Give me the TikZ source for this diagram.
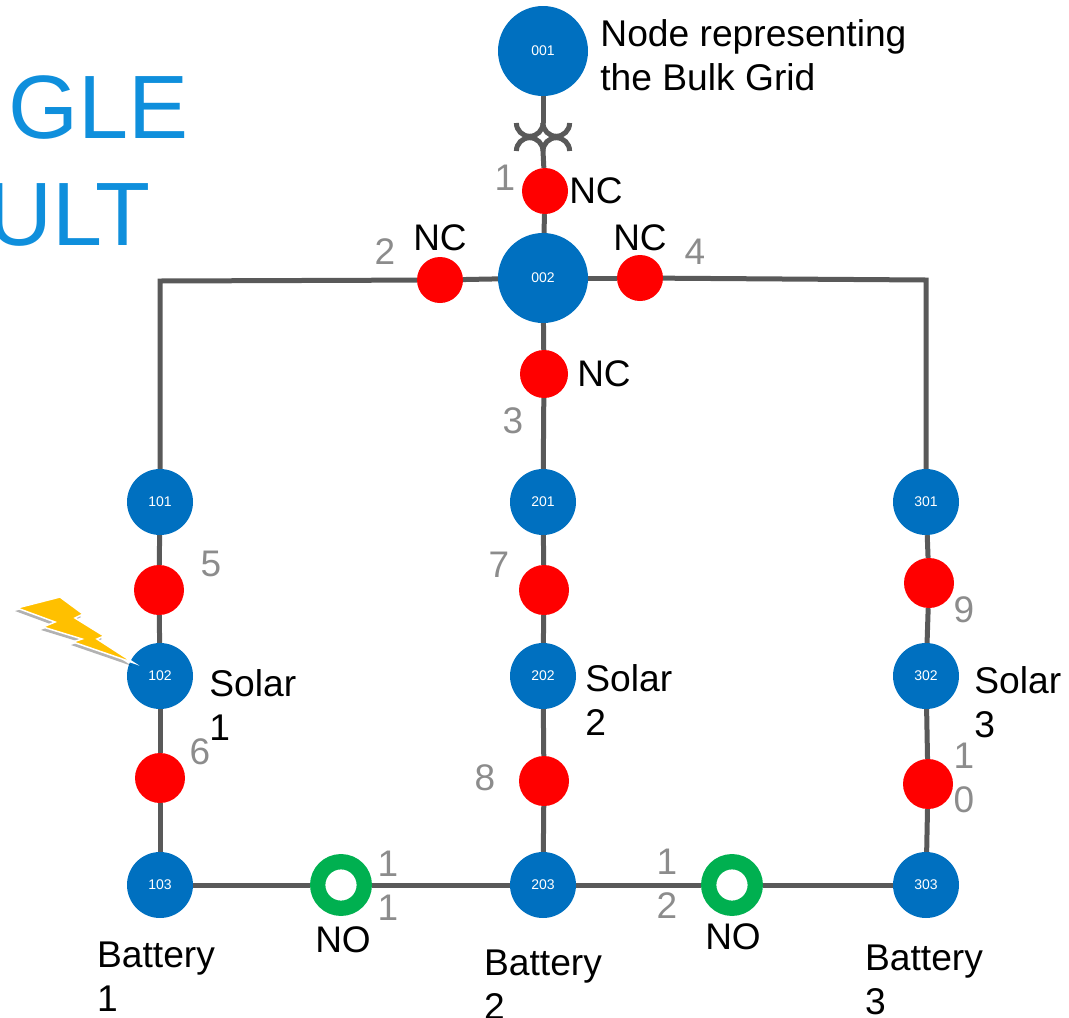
\documentclass[tikz,border=0pt]{standalone}
\usepackage{fontspec}
\setmainfont{Liberation Sans}
\usetikzlibrary{positioning, shadows}
\definecolor{busblue}{HTML}{0070C0}
\definecolor{wiregray}{HTML}{595959}
\definecolor{numgray}{HTML}{8C8C8C}
\definecolor{titleblue}{HTML}{0F8FDC}
\definecolor{ringgreen}{HTML}{00B050}
\definecolor{boltyellow}{HTML}{FFC000}
\tikzset{
    bigbus/.style={on grid, circle, fill=busblue, text=white, inner sep=0pt,
        minimum size=90pt, font=\fontsize{14}{14}\selectfont},
    bus/.style={on grid, circle, fill=busblue, text=white, inner sep=0pt,
        minimum size=66pt, font=\fontsize{14}{14}\selectfont},
    redsw/.style={on grid, circle, fill=red, inner sep=0pt, minimum size=#1},
    redsw/.default=50pt,
    nosw/.style={on grid, circle, draw=ringgreen, line width=15.3pt, fill=white,
        inner sep=0pt, minimum size=46.6pt},
    wire/.style={draw=wiregray, line width=5pt},
    num/.style={on grid, text=numgray, inner sep=0pt, align=center,
        font=\fontsize{37}{43.5}\selectfont},
    lbl/.style={on grid, text=black, inner sep=0pt,
        font=\fontsize{37}{37}\selectfont},
    txt/.style={text=black, inner sep=0pt, align=left,
        font=\fontsize{37.2}{44}\selectfont},
    titletxt/.style={text=titleblue, inner sep=0pt, anchor=base west,
        font=\fontsize{90}{90}\selectfont}
}
\begin{document}
\begin{tikzpicture}
    \useasboundingbox (0pt,0pt) rectangle (1069pt,-1018pt);

    \node[titletxt] (titleA) at (8pt,-138pt) {GLE};
    \node[titletxt] (titleB) at (-13pt,-245pt) {ULT};

    \node[bigbus] (n001) at (543pt,-51pt) {001};
    \node[bigbus, below=227pt of n001] (n002) {002};
    \node[bus, below=224pt of n002] (n201) {201};
    \node[bus, left=383pt of n201] (n101) {101};
    \node[bus, right=383pt of n201] (n301) {301};
    \node[bus, below=174pt of n101] (n102) {102};
    \node[bus, below=174pt of n201] (n202) {202};
    \node[bus, below=174pt of n301] (n302) {302};
    \node[bus, below=209pt of n102] (n103) {103};
    \node[bus, below=209pt of n202] (n203) {203};
    \node[bus, below=209pt of n302] (n303) {303};

    \node[redsw=46pt, below=140pt of n001, xshift=2pt] (sw1) {};
    \node[redsw=46pt, left=103pt of n002, yshift=-2pt] (sw2) {};
    \node[redsw=48pt, below=96pt of n002, xshift=1pt] (sw3) {};
    \node[redsw=46pt, right=97pt of n002] (sw4) {};
    \node[redsw, below=88pt of n101, xshift=-1pt] (sw5) {};
    \node[redsw, above=107pt of n103] (sw6) {};
    \node[redsw, below=88pt of n201, xshift=1pt] (sw7) {};
    \node[redsw, above=104pt of n203, xshift=1pt] (sw8) {};
    \node[redsw, below=81pt of n301, xshift=3pt] (sw9) {};
    \node[redsw, above=101pt of n303, xshift=2pt] (sw10) {};
    \node[nosw, right=181pt of n103] (sw11) {};
    \node[nosw, left=194pt of n303] (sw12) {};

    \coordinate[on grid, below=72pt of n001] (xfmTop);
    \coordinate[on grid, below=100pt of n001] (xfmBot);
    \coordinate[on grid, left=280pt of sw2, yshift=-1pt] (cornerL);
    \coordinate[on grid, right=286pt of sw4, yshift=-2pt] (cornerR);

    \draw[wire] (n001) -- (xfmTop);
    \draw[wire] (xfmBot) -- (sw1);
    \draw[wire] (xfmTop) arc[start angle=0, end angle=-180, radius=13.3pt];
    \draw[wire] (xfmTop) arc[start angle=180, end angle=360, radius=13.3pt];
    \draw[wire] (xfmBot) arc[start angle=0, end angle=180, radius=13.3pt];
    \draw[wire] (xfmBot) arc[start angle=180, end angle=0, radius=13.3pt];
    \draw[wire] (sw1) -- (n002);
    \draw[wire] (n002) -- (sw2);
    \draw[wire] (sw2) -- (cornerL) -- (n101);
    \draw[wire] (n002) -- (sw4);
    \draw[wire] (sw4) -- (cornerR) -- (n301);
    \draw[wire] (n002) -- (sw3);
    \draw[wire] (sw3) -- (n201);
    \draw[wire] (n101) -- (sw5);
    \draw[wire] (sw5) -- (n102);
    \draw[wire] (n102) -- (sw6);
    \draw[wire] (sw6) -- (n103);
    \draw[wire] (n201) -- (sw7);
    \draw[wire] (sw7) -- (n202);
    \draw[wire] (n202) -- (sw8);
    \draw[wire] (sw8) -- (n203);
    \draw[wire] (n301) -- (sw9);
    \draw[wire] (sw9) -- (n302);
    \draw[wire] (n302) -- (sw10);
    \draw[wire] (sw10) -- (n303);
    \draw[wire] (n103) -- (sw11);
    \draw[wire] (sw11) -- (n203);
    \draw[wire] (n203) -- (sw12);
    \draw[wire] (sw12) -- (n303);

    \node[num, left=40pt of sw1, yshift=13pt] (num1) {1};
    \node[num, left=55pt of sw2, yshift=28pt] (num2) {2};
    \node[num, below=47pt of sw3, xshift=-31pt] (num3) {3};
    \node[num, right=55pt of sw4, yshift=26pt] (num4) {4};
    \node[num, right=52pt of sw5, yshift=26pt] (num5) {5};
    \node[num, right=40pt of sw6, yshift=26pt] (num6) {6};
    \node[num, left=45pt of sw7, yshift=25pt] (num7) {7};
    \node[num, left=59pt of sw8, yshift=3pt] (num8) {8};
    \node[num, right=35pt of sw9, yshift=-27pt] (num9) {9};
    \node[num, right=36pt of sw10, yshift=6pt] (num10) {1\\0};
    \node[num, right=47pt of sw11, yshift=-1pt] (num11) {1\\1};
    \node[num, left=65pt of sw12, yshift=1pt] (num12) {1\\2};

    \node[lbl, right=51pt of sw1] (nc1) {NC};
    \node[lbl, above=42pt of sw2] (nc2) {NC};
    \node[lbl, right=60pt of sw3] (nc3) {NC};
    \node[lbl, above=40pt of sw4] (nc4) {NC};
    \node[lbl, below=55pt of sw11, xshift=2pt] (no1) {NO};
    \node[lbl, below=52pt of sw12, xshift=1pt] (no2) {NO};

    \node[txt, right=12pt of n001, yshift=-4pt] (bulk) {Node representing\\the Bulk Grid};
    \node[txt, right=16pt of n102, yshift=-29pt] (solar1) {Solar\\1};
    \node[txt, right=9pt of n202, yshift=-24pt] (solar2) {Solar\\2};
    \node[txt, right=15pt of n302, yshift=-26pt] (solar3) {Solar\\3};
    \node[txt, below=23pt of n103, xshift=-4pt] (batt1) {Battery\\1};
    \node[txt, below=31pt of n203, xshift=0pt] (batt2) {Battery\\2};
    \node[txt, below=26pt of n303, xshift=-2pt] (batt3) {Battery\\3};

    \path[fill=boltyellow, draw=white, line width=1.5pt,
        drop shadow={shadow xshift=-2pt, shadow yshift=-3pt, opacity=.3, fill=black}]
        (17pt,-608pt) -- (60pt,-597pt) -- (83pt,-614pt) -- (75pt,-618pt)
        -- (104pt,-636pt) -- (97pt,-639pt) -- (134pt,-663pt) -- (73pt,-642pt)
        -- (82pt,-639pt) -- (43pt,-627pt) -- (55pt,-622pt) -- cycle;
\end{tikzpicture}
\end{document}
